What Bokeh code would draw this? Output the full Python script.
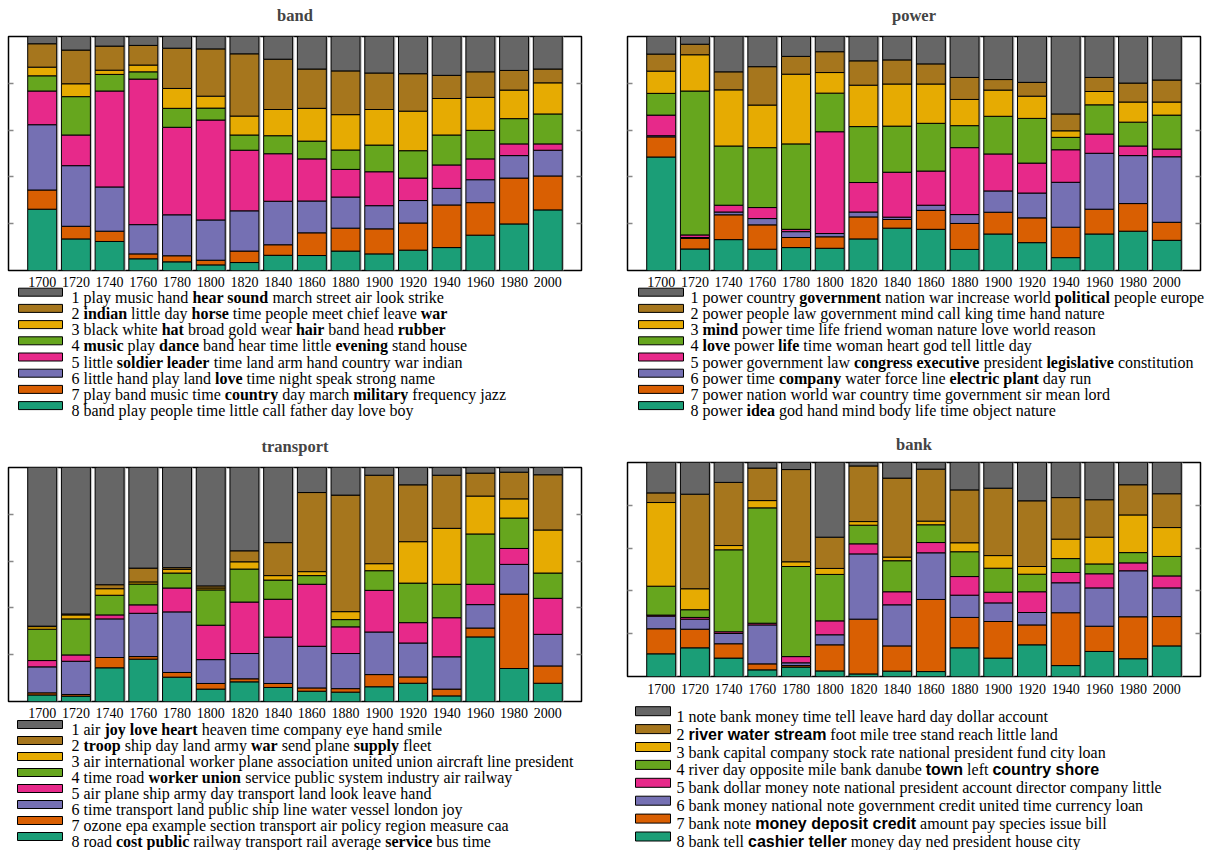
import re
from bokeh.plotting import figure
from bokeh.models import ColumnDataSource, FactorRange, Range1d, LinearAxis, FixedTicker
from bokeh.transform import dodge
from bokeh.layouts import column, row
from bokeh.embed import file_html
from bokeh.resources import INLINE
from bokeh.core.properties import value

DECADES = ["1700", "1720", "1740", "1760", "1780", "1800", "1820", "1840",
           "1860", "1880", "1900", "1920", "1940", "1960", "1980", "2000"]

# topic 1 .. topic 8 (Dark2)
TOPIC_COLORS = ["#666666", "#a6761d", "#e6ab02", "#66a61e",
                "#e7298a", "#7570b3", "#d95f02", "#1b9e77"]

# ---------------- band ----------------
BAND_T1 = [.031, .058, .041, .038, .050, .053, .074, .097, .139, .147, .156, .159, .166, .151, .145, .139]
BAND_T2 = [.100, .144, .103, .084, .172, .202, .266, .215, .168, .187, .156, .160, .099, .109, .084, .059]
BAND_T3 = [.037, .055, .018, .029, .085, .051, .081, .112, .140, .151, .152, .169, .156, .141, .122, .133]
BAND_T4 = [.065, .164, .071, .031, .081, .051, .065, .077, .076, .083, .114, .117, .128, .122, .108, .128]
BAND_T5 = [.144, .131, .410, .622, .374, .427, .259, .203, .180, .118, .145, .096, .100, .089, .050, .027]
BAND_T6 = [.279, .259, .189, .125, .175, .172, .172, .186, .136, .133, .099, .096, .071, .098, .096, .110]
BAND_T7 = [.082, .054, .044, .021, .026, .020, .049, .045, .097, .098, .107, .116, .182, .139, .196, .145]
BAND_T8 = [.262, .135, .124, .050, .037, .024, .034, .065, .064, .083, .071, .087, .098, .151, .199, .259]

BAND_LABELS = [
    "1 play music hand **hear sound** march street air look strike",
    "2 **indian** little day **horse** time people meet chief leave **war**",
    "3 black white **hat** broad gold wear **hair** band head **rubber**",
    "4 **music** play **dance** band hear time little **evening** stand house",
    "5 little **soldier leader** time land arm hand country war indian",
    "6 little hand play land **love** time night speak strong name",
    "7 play band music time **country** day march **military** frequency jazz",
    "8 band play people time little call father day love boy",
]

# ---------------- power ----------------
POWER_T1 = [.075, .033, .151, .129, .085, .065, .104, .100, .117, .175, .184, .196, .331, .175, .199, .186]
POWER_T2 = [.073, .045, .077, .164, .076, .089, .104, .103, .086, .094, .045, .059, .072, .060, .081, .094]
POWER_T3 = [.095, .155, .240, .182, .298, .088, .177, .180, .168, .112, .112, .095, .028, .057, .086, .056]
POWER_T4 = [.093, .615, .253, .256, .365, .165, .239, .197, .204, .094, .161, .191, .053, .125, .102, .145]
POWER_T5 = [.088, .011, .029, .047, .010, .435, .126, .192, .146, .286, .158, .128, .139, .082, .041, .033]
POWER_T6 = [.005, .004, .012, .027, .025, .014, .021, .010, .022, .038, .091, .106, .192, .239, .205, .280]
POWER_T7 = [.086, .045, .106, .104, .043, .049, .094, .037, .081, .111, .093, .106, .130, .106, .118, .077]
POWER_T8 = [.485, .092, .132, .091, .098, .095, .135, .181, .176, .090, .156, .119, .055, .156, .168, .129]

POWER_LABELS = [
    "1 power country **government** nation war increase world **political** people europe",
    "2 power people law government mind call king time hand nature",
    "3 **mind** power time life friend woman nature love world reason",
    "4 **love** power **life** time woman heart god tell little day",
    "5 power government law **congress executive** president **legislative** constitution",
    "6 power time **company** water force line **electric plant** day run",
    "7 power nation world war country time government sir mean lord",
    "8 power **idea** god hand mind body life time object nature",
]

# ---------------- transport ----------------
TRANSPORT_T1 = [.678, .626, .501, .430, .428, .506, .356, .321, .107, .118, .033, .074, .033, .024, .020, .031]
TRANSPORT_T2 = [.002, .004, .017, .059, .007, .009, .047, .141, .338, .498, .378, .243, .227, .098, .114, .236]
TRANSPORT_T3 = [.011, .017, .028, .009, .016, .008, .031, .019, .017, .034, .030, .177, .239, .162, .082, .184]
TRANSPORT_T4 = [.134, .154, .084, .089, .064, .151, .141, .082, .037, .031, .084, .169, .143, .215, .130, .108]
TRANSPORT_T5 = [.027, .027, .017, .036, .102, .147, .220, .162, .265, .114, .178, .087, .167, .087, .068, .154]
TRANSPORT_T6 = [.111, .142, .165, .185, .259, .102, .108, .198, .178, .150, .182, .145, .138, .100, .127, .135]
TRANSPORT_T7 = [.009, .007, .044, .011, .020, .024, .013, .017, .014, .015, .052, .027, .029, .038, .318, .074]
TRANSPORT_T8 = [.028, .023, .144, .181, .104, .053, .084, .060, .044, .040, .063, .078, .024, .276, .141, .078]

TRANSPORT_LABELS = [
    "1 air **joy love heart** heaven time company eye hand smile",
    "2 **troop** ship day land army **war** send plane **supply** fleet",
    "3 air international worker plane association united union aircraft line president",
    "4 time road **worker union** service public system industry air railway",
    "5 air plane ship army day transport land look leave hand",
    "6 time transport land public ship line water vessel london joy",
    "7 ozone epa example section transport air policy region measure caa",
    "8 road **cost public** railway transport rail average **service** bus time",
]

# ---------------- bank ----------------
BANK_T1 = [.142, .148, .093, .026, .033, .349, .016, .073, .031, .128, .120, .179, .164, .174, .104, .146]
BANK_T2 = [.045, .442, .295, .152, .431, .146, .260, .369, .243, .247, .315, .307, .194, .175, .141, .158]
BANK_T3 = [.391, .098, .020, .034, .022, .028, .017, .017, .017, .042, .059, .036, .091, .125, .176, .135]
BANK_T4 = [.135, .036, .383, .539, .421, .217, .087, .145, .083, .116, .112, .082, .065, .046, .048, .091]
BANK_T5 = [.005, .008, .008, .008, .029, .065, .047, .061, .048, .087, .050, .097, .048, .066, .037, .056]
BANK_T6 = [.059, .047, .048, .182, .013, .047, .305, .192, .218, .104, .087, .058, .140, .179, .215, .134]
BANK_T7 = [.117, .087, .067, .028, .007, .122, .256, .118, .337, .142, .171, .093, .247, .118, .196, .137]
BANK_T8 = [.106, .134, .086, .031, .044, .026, .012, .025, .023, .134, .086, .148, .051, .117, .083, .143]

BANK_LABELS = [
    "1 note bank money time tell leave hard day dollar account",
    "2 ##river water stream## foot mile tree stand reach little land",
    "3 bank capital company stock rate national president fund city loan",
    "4 river day opposite mile bank danube ##town## left ##country shore##",
    "5 bank dollar money note national president account director company little",
    "6 bank money national note government credit united time currency loan",
    "7 bank note ##money deposit credit## amount pay species issue bill",
    "8 bank tell ##cashier teller## money day ned president house city",
]

SERIF = "Liberation Serif"
SANS = "Liberation Sans"
LEG_SIZE = 16.0

# advance widths (1/1000 em) of Times / Arial metric-compatible fonts
_lc = "abcdefghijklmnopqrstuvwxyz"
REG_W = dict(zip(_lc, [444, 500, 444, 500, 444, 333, 500, 500, 278, 278, 500, 278, 778,
                       500, 500, 500, 500, 333, 389, 278, 500, 500, 722, 500, 500, 444]))
BOLD_W = dict(zip(_lc, [500, 556, 444, 556, 444, 333, 500, 556, 278, 333, 556, 278, 833,
                        556, 500, 556, 556, 444, 389, 333, 556, 500, 722, 500, 500, 444]))
SANSB_W = dict(zip(_lc, [556, 611, 556, 611, 556, 333, 611, 611, 278, 278, 556, 278, 889,
                         611, 611, 611, 611, 389, 556, 333, 611, 556, 778, 556, 556, 500]))
REG_W[" "] = 250
BOLD_W[" "] = 250
SANSB_W[" "] = 278
STYLES = {"reg": (SERIF, "normal", REG_W),
          "bold": (SERIF, "bold", BOLD_W),
          "sans": (SANS, "bold", SANSB_W)}


def tw(s, table):
    return sum(table.get(c, 500) for c in s) * LEG_SIZE / 1000.0


def make_bars(title, topics, frame_h, top, bottom, left, right, t_standoff, l_standoff, lift):
    data = {"decade": DECADES, "full": [sum(v) for v in zip(*topics)]}
    for i, vals in enumerate(topics):
        data["t%d" % (i + 1)] = vals
    src = ColumnDataSource(data)
    xr = FactorRange(factors=DECADES, range_padding=0.5, range_padding_units="absolute")
    p = figure(x_range=xr, y_range=Range1d(0, 1), frame_width=573, frame_height=frame_h,
               min_border_left=left, min_border_right=right,
               min_border_top=top, min_border_bottom=bottom,
               toolbar_location=None, tools="", output_backend="svg",
               title=title, margin=(-lift, 0, 0, 0))
    # faint grey shading to the right of every bar
    p.vbar(x=dodge("decade", 0.05, range=xr), top="full", width=0.86, source=src,
           fill_color="#c4c4c4", line_color=None)
    stackers = ["t%d" % i for i in range(8, 0, -1)]
    p.vbar_stack(stackers, x="decade", width=0.86, source=src,
                 fill_color=[TOPIC_COLORS[i - 1] for i in range(8, 0, -1)],
                 line_color="black", line_width=1)
    p.title.align = "center"
    p.title.text_font = SERIF
    p.title.text_font_size = "16.5px"
    p.title.text_font_style = "bold"
    p.title.standoff = t_standoff
    p.grid.visible = False
    p.outline_line_color = "black"
    p.outline_line_width = 1.5
    p.background_fill_color = "white"
    p.border_fill_color = "white"

    xa = p.xaxis[0]
    xa.axis_line_color = None
    xa.major_tick_line_color = None
    xa.minor_tick_line_color = None
    xa.major_label_standoff = l_standoff
    xa.major_label_text_font = SERIF
    xa.major_label_text_font_size = "14px"
    xa.major_label_text_color = "black"

    ticks = [0.2, 0.4, 0.6, 0.8]
    ya = p.yaxis[0]
    ra = LinearAxis()
    p.add_layout(ra, "right")
    for ax in (ya, ra):
        ax.ticker = FixedTicker(ticks=ticks)
        ax.major_label_overrides = {t: "" for t in ticks}
        ax.major_label_standoff = 0
        ax.major_tick_in = 5
        ax.major_tick_out = 0
        ax.minor_tick_line_color = None
        ax.major_tick_line_color = "#888888"
        ax.major_tick_line_width = 1.5
        ax.axis_line_color = None
    return p


def make_legend(lines, w, h, overlap, sw0, sw1, sw_h, tx, base0, step):
    p = figure(frame_width=w, frame_height=h, x_range=Range1d(0, w), y_range=Range1d(h, 0),
               min_border_left=0, min_border_right=0, min_border_top=0, min_border_bottom=0,
               toolbar_location=None, tools="", output_backend="svg",
               x_axis_location=None, y_axis_location=None, title=None,
               margin=(-overlap, 0, 0, 0))
    p.grid.visible = False
    p.outline_line_color = None
    p.background_fill_color = None
    p.border_fill_color = None
    ys = [base0 + step * i for i in range(len(lines))]
    p.rect(x=[(sw0 + sw1) / 2.0] * len(lines), y=[y - 5 for y in ys],
           width=sw1 - sw0, height=sw_h, fill_color=TOPIC_COLORS,
           line_color="black", line_width=1)
    runs = {k: {"x": [], "y": [], "text": []} for k in STYLES}
    for line, y in zip(lines, ys):
        cur = tx
        for piece in re.split(r"(\*\*[^*]+\*\*|##[^#]+##)", line):
            if not piece:
                continue
            if piece.startswith("**"):
                st, txt = "bold", piece[2:-2]
            elif piece.startswith("##"):
                st, txt = "sans", piece[2:-2]
            else:
                st, txt = "reg", piece
            table = STYLES[st][2]
            lead = len(txt) - len(txt.lstrip(" "))
            trail = len(txt) - len(txt.rstrip(" "))
            core = txt.strip(" ")
            cur += lead * tw(" ", table)
            if core:
                runs[st]["x"].append(cur)
                runs[st]["y"].append(y)
                runs[st]["text"].append(core)
                cur += tw(core, table)
            cur += trail * tw(" ", table)
    for st, d in runs.items():
        if not d["text"]:
            continue
        font, style, _ = STYLES[st]
        p.text(x="x", y="y", text="text", source=ColumnDataSource(d),
               text_font=value(font), text_font_style=style,
               text_font_size=value("%gpx" % LEG_SIZE), text_baseline="alphabetic",
               text_align="left", text_color="black")
    return p


# top row: band (x 0..617) | power (x 617..1219), height 422
band = make_bars("band", [BAND_T1, BAND_T2, BAND_T3, BAND_T4, BAND_T5, BAND_T6, BAND_T7, BAND_T8],
                 234, 47, 44, 8, 36, 24, 0, 11)
band_leg = make_legend(BAND_LABELS, 617, 141, 33, 10, 54, 8, 63, 15.7, 16.2)

power = make_bars("power", [POWER_T1, POWER_T2, POWER_T3, POWER_T4, POWER_T5, POWER_T6, POWER_T7, POWER_T8],
                  234, 47, 44, 10, 19, 24, 0, 11)
power_leg = make_legend(POWER_LABELS, 602, 141, 33, 11, 56, 8, 63, 15.7, 16.2)

# bottom row (starts at y = 422)
transport = make_bars("transport", [TRANSPORT_T1, TRANSPORT_T2, TRANSPORT_T3, TRANSPORT_T4,
                                    TRANSPORT_T5, TRANSPORT_T6, TRANSPORT_T7, TRANSPORT_T8],
                      234, 45, 44, 8, 36, 23, 0, 0)
transport_leg = make_legend(TRANSPORT_LABELS, 617, 134, 29, 9, 54, 8, 63, 13.0, 16.0)

bank = make_bars("bank", [BANK_T1, BANK_T2, BANK_T3, BANK_T4, BANK_T5, BANK_T6, BANK_T7, BANK_T8],
                 214, 40, 44, 10, 19, 17, 1, 0)
bank_leg = make_legend(BANK_LABELS, 602, 149, 19, 8, 43, 9, 49, 14.7, 17.9)

layout = column(
    row(column(band, band_leg), column(power, power_leg)),
    row(column(transport, transport_leg), column(bank, bank_leg)),
)

open("out.html", "w").write(file_html(layout, INLINE))
